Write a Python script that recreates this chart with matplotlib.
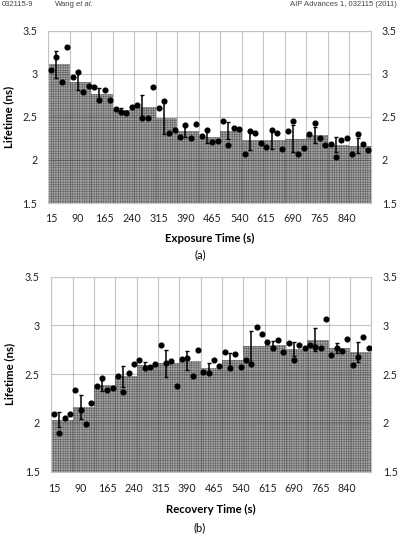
import numpy as np
import matplotlib
matplotlib.use("Agg")
import matplotlib.pyplot as plt

# lifetime (ns) of every 15 s sample, 60 samples, groups of 4
exposure_lifetime = [
    3.04, 3.19, 2.90, 3.31,
    2.96, 3.02, 2.79, 2.86,
    2.85, 2.69, 2.81, 2.70,
    2.59, 2.56, 2.55, 2.62,
    2.64, 2.49, 2.49, 2.85,
    2.60, 2.68, 2.31, 2.35,
    2.27, 2.41, 2.26, 2.42,
    2.28, 2.35, 2.21, 2.22,
    2.45, 2.17, 2.37, 2.36,
    2.07, 2.34, 2.31, 2.20,
    2.15, 2.35, 2.31, 2.13,
    2.33, 2.45, 2.07, 2.14,
    2.30, 2.43, 2.25, 2.17,
    2.19, 2.03, 2.23, 2.26,
    2.07, 2.30, 2.18, 2.11,
]
exposure_err = [0.155, 0.10, 0.07, 0.025, 0.14, 0.185, 0.07, 0.07,
                0.10, 0.115, 0.105, 0.155, 0.09, 0.09, 0.085]

recovery_lifetime = [
    2.09, 1.90, 2.05, 2.09,
    2.34, 2.13, 1.99, 2.20,
    2.38, 2.46, 2.34, 2.36,
    2.48, 2.32, 2.51, 2.60,
    2.65, 2.56, 2.57, 2.60,
    2.80, 2.62, 2.64, 2.38,
    2.66, 2.67, 2.48, 2.75,
    2.52, 2.51, 2.65, 2.58,
    2.73, 2.56, 2.71, 2.57,
    2.65, 2.60, 2.98, 2.91,
    2.83, 2.77, 2.85, 2.73,
    2.82, 2.65, 2.80, 2.77,
    2.80, 2.78, 2.77, 3.07,
    2.70, 2.77, 2.74, 2.86,
    2.59, 2.68, 2.88, 2.77,
]
recovery_err = [0.075, 0.12, 0.055, 0.11, 0.035, 0.14, 0.095, 0.055,
                0.08, 0.155, 0.05, 0.07, 0.12, 0.055, 0.10]

time_s = [15 * (i + 1) for i in range(60)]
tick_labels = [str(t) for t in time_s[::5]]

W, H = 399, 547
plt.rcParams['hatch.linewidth'] = 0.35
fig = plt.figure(figsize=(W / 100, H / 100), dpi=100)
fig.patch.set_facecolor('white')

TICK_FONT = 'Lato'
YMIN = 1.5


def px_axes(l, t, r, b):
    return fig.add_axes([l / W, 1 - b / H, (r - l) / W, (b - t) / H])


def draw_panel(ax, vals, errs, xpad, ypad):
    vals = np.array(vals)
    n = len(vals)
    x = np.arange(n)
    groups = vals.reshape(-1, 4)
    means = groups.mean(axis=1)
    gx = np.arange(len(means)) * 4 + 1.5
    ax.bar(gx, means - YMIN, width=4, bottom=YMIN, color='#a4a4a4',
           edgecolor='#5a5a5a', linewidth=0, hatch='+++++++', zorder=1)
    ax.errorbar(np.arange(len(means)) * 4 + 1, means, yerr=errs, fmt='none',
                ecolor='black', elinewidth=1.1, capsize=1.4, capthick=1.0, zorder=3)
    ax.plot(x, vals, 'o', color='black', markersize=3.4, zorder=4)
    ax.set_xlim(-0.5, n - 0.5)
    ax.set_ylim(YMIN, 3.5)
    ax.set_yticks([1.5, 2, 2.5, 3, 3.5])
    ax.set_yticklabels(['1.5', '2', '2.5', '3', '3.5'])
    ax.set_xticks(x[::5])
    ax.set_xticklabels(tick_labels)
    for gxl in np.arange(-0.5, n, 4):
        ax.axvline(gxl, color='#3c3c3c', alpha=0.3, lw=0.8, zorder=2)
    for gy in [2, 2.5, 3, 3.5]:
        ax.axhline(gy, color='#3c3c3c', alpha=0.3, lw=0.8, zorder=2)
    for s in ax.spines.values():
        s.set_color('#c4c4c4')
        s.set_linewidth(0.8)
    ax.tick_params(axis='both', which='both', length=0)
    ax.tick_params(axis='x', pad=xpad, labelsize=7.7)
    ax.tick_params(axis='y', pad=ypad, labelsize=7.7, labelright=True)
    for lab in ax.get_yticklabels() + ax.get_xticklabels():
        lab.set_family(TICK_FONT)
        lab.set_color('#222222')


# panel (a)
ax1 = px_axes(48.3, 30.7, 371, 203)
draw_panel(ax1, exposure_lifetime, exposure_err, 7.0, 7.8)
# panel (b)
ax2 = px_axes(51.3, 276.7, 371.3, 471.7)
draw_panel(ax2, recovery_lifetime, recovery_err, 8.3, 8.3)


def ftext(x, y, s, **kw):
    fig.text(x / W, 1 - y / H, s, **kw)


ftext(9, 117, 'Lifetime (ns)', rotation=90, ha='center', va='center',
      fontsize=8.2, fontweight='bold', family=TICK_FONT)
ftext(10, 374, 'Lifetime (ns)', rotation=90, ha='center', va='center',
      fontsize=8.2, fontweight='bold', family=TICK_FONT)
ftext(209.5, 238, 'Exposure Time (s)', ha='center', va='center',
      fontsize=8.2, fontweight='bold', family=TICK_FONT)
ftext(211, 509.5, 'Recovery Time (s)', ha='center', va='center',
      fontsize=8.2, fontweight='bold', family=TICK_FONT)
ftext(200, 255, '(a)', ha='center', va='center', fontsize=8, family=TICK_FONT)
ftext(200, 527.5, '(b)', ha='center', va='center', fontsize=8, family=TICK_FONT)

# journal header
hdr = dict(va='center', fontsize=5.5, family='Liberation Sans', color='#444444')
ftext(2, 5, '032115-9', ha='left', **hdr)
ftext(55, 5, 'Wang', ha='left', **hdr)
ftext(76.5, 5, 'et al.', ha='left', style='italic', **hdr)
ftext(397, 5, 'AIP Advances 1, 032115 (2011)', ha='right', **hdr)

fig.savefig('out.png', dpi=100)
